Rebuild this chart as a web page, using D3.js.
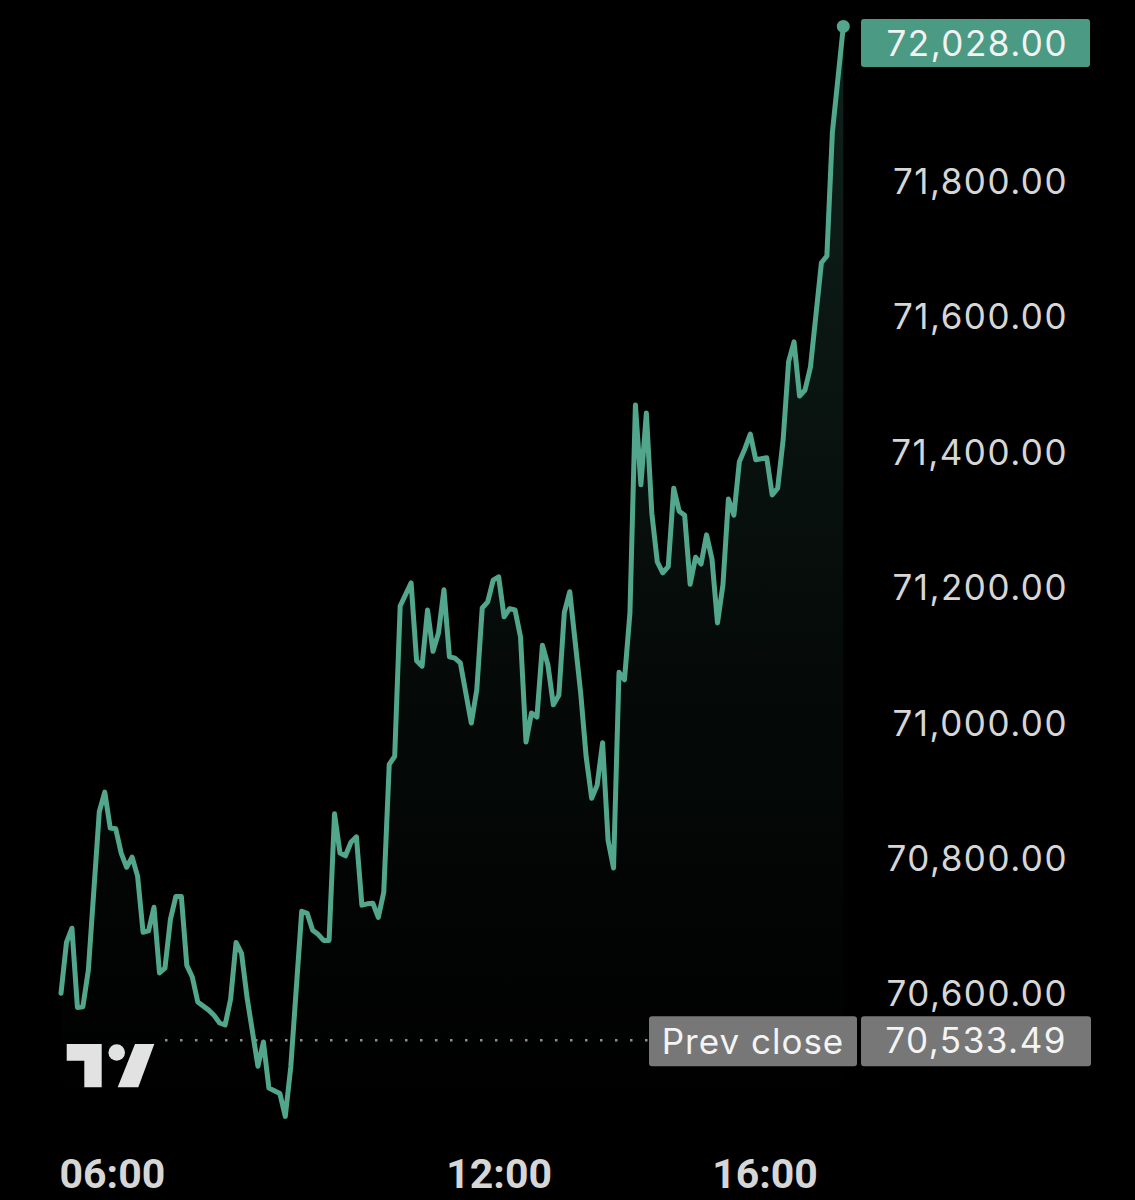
<!DOCTYPE html>
<html>
<head>
<meta charset="utf-8">
<script src="https://cdn.jsdelivr.net/npm/d3@7/dist/d3.min.js"></script>
<style>
  html, body { margin: 0; padding: 0; background: #000; }
  svg { display: block; }
</style>
</head>
<body>
<svg id="chart" width="1135" height="1200"></svg>
<script>
// ---- data (5‑minute bar index, price) ----
const bars = [0,1,2,3,4,5,7,8,9,10,11,12,13,14,15,16,17,18,19,20,21,22,23,24,25,27,28,29,30,31,32,33,34,36,37,38,40,41,42,44,45,46,47,48,49,50,51,52,53,54,55,56,57,58,59,60,61,62,64,65,66,67,68,69,70,71,72,73,75,76,77,78,79,80,81,82,83,84,85,86,87,88,89,90,91,92,93,95,96,97,98,99,100,101,102,103,104,105,106,107,108,109,110,111,112,113,114,115,116,117,118,119,120,121,122,123,124,125,126,127,129,130,131,132,133,134,135,136,137,139,140,141,143];
const prices = [70600,70675,70696,70579,70580,70634,70868,70897,70844,70843,70807,70786,70801,70773,70690,70692,70727,70630,70637,70709,70743,70743,70641,70624,70587,70575,70567,70556,70553,70591,70675,70659,70594,70492,70528,70460,70452,70418,70491,70721,70718,70693,70687,70678,70678,70865,70807,70803,70823,70831,70730,70732,70733,70712,70749,70938,70950,71172,71206,71091,71083,71166,71105,71132,71196,71097,71095,71088,70999,71048,71169,71178,71210,71215,71156,71168,71166,71126,70971,71014,71008,71114,71085,71026,71040,71162,71193,71043,70949,70888,70907,70970,70826,70785,71074,71063,71162,71469,71351,71457,71309,71237,71221,71230,71346,71312,71306,71204,71244,71234,71277,71241,71147,71203,71330,71306,71385,71404,71426,71388,71391,71336,71346,71417,71533,71562,71482,71491,71525,71679,71689,71871,72028];
const yTicks = [70600, 70800, 71000, 71200, 71400, 71600, 71800];
const xTickBars = [9.3, 80, 128.6];
const xTickLabels = ["06:00", "12:00", "16:00"];
const lastPrice = 72028.00;
const prevClose = 70533.49;
const prevCloseLabel = "Prev close";

// ---- layout ----
const svg = d3.select("#chart");
const lineColor = "#52a68c";
const fmt = d3.format(",.2f");
const labelFont = "Inter, 'Noto Sans', sans-serif";

const x = d3.scaleLinear().domain([0, 143]).range([61, 843.3]);
const y = d3.scaleLinear().domain([70600, 71800]).range([993.2, 180.8]);

const data = bars.map((b, i) => ({ b, p: prices[i] }));

// gradient
const defs = svg.append("defs");
const grad = defs.append("linearGradient")
  .attr("id", "fillGrad").attr("gradientUnits", "userSpaceOnUse")
  .attr("x1", 0).attr("x2", 0).attr("y1", y(lastPrice)).attr("y2", 1100);
grad.append("stop").attr("offset", 0).attr("stop-color", lineColor).attr("stop-opacity", 0.2);
grad.append("stop").attr("offset", 0.55).attr("stop-color", lineColor).attr("stop-opacity", 0.07);
grad.append("stop").attr("offset", 1).attr("stop-color", lineColor).attr("stop-opacity", 0);

// area
const area = d3.area().x(d => x(d.b)).y0(1100).y1(d => y(d.p));
svg.append("path").datum(data).attr("d", area).attr("fill", "url(#fillGrad)");

// prev close dotted line
svg.append("line")
  .attr("x1", 165).attr("x2", 648)
  .attr("y1", y(prevClose) + 2).attr("y2", y(prevClose) + 2)
  .attr("stroke", "#8f8f8f").attr("stroke-width", 2.5)
  .attr("stroke-dasharray", "2.5 12.5");

// line
const line = d3.line().x(d => x(d.b)).y(d => y(d.p));
svg.append("path").datum(data).attr("d", line)
  .attr("fill", "none").attr("stroke", lineColor)
  .attr("stroke-width", 5).attr("stroke-linejoin", "round").attr("stroke-linecap", "round");

// end dot
const last = data[data.length - 1];
svg.append("circle").attr("cx", x(last.b)).attr("cy", y(last.p)).attr("r", 6.5).attr("fill", lineColor);

// y axis labels
const yAxis = d3.axisRight(y).tickValues(yTicks).tickFormat(fmt).tickSize(0);
const yg = svg.append("g").call(yAxis);
yg.select(".domain").remove();
yg.selectAll("text")
  .attr("x", 1068).attr("text-anchor", "end").attr("dy", "0.36em")
  .attr("fill", "#d6d6d6")
  .style("font-family", labelFont)
  .style("font-size", "35px").style("letter-spacing", "1.5px");

// current price box
const boxTop = Math.max(y(lastPrice) - 24, 19);
svg.append("rect").attr("x", 861).attr("y", boxTop).attr("width", 229).attr("height", 48)
  .attr("rx", 3).attr("fill", "#4b9b84");
svg.append("text").attr("x", 1068).attr("y", boxTop + 24).attr("dy", "0.36em")
  .attr("text-anchor", "end").attr("fill", "#f2f2f2")
  .style("font-family", labelFont)
  .style("font-size", "35px").style("letter-spacing", "1.5px")
  .text(fmt(lastPrice));

// prev close boxes
const pcY = y(prevClose) + 3;
svg.append("rect").attr("x", 649).attr("y", pcY - 25).attr("width", 208).attr("height", 50)
  .attr("rx", 3).attr("fill", "#777777");
svg.append("rect").attr("x", 861).attr("y", pcY - 25).attr("width", 230).attr("height", 50)
  .attr("rx", 3).attr("fill", "#777777");
svg.append("text").attr("x", 753).attr("y", pcY).attr("dy", "0.36em")
  .attr("text-anchor", "middle").attr("fill", "#f4f4f4")
  .style("font-family", labelFont)
  .style("font-size", "35px").style("letter-spacing", "1px")
  .text(prevCloseLabel);
svg.append("text").attr("x", 1067).attr("y", pcY - 1).attr("dy", "0.36em")
  .attr("text-anchor", "end").attr("fill", "#f4f4f4")
  .style("font-family", labelFont)
  .style("font-size", "35px").style("letter-spacing", "1.5px")
  .text(fmt(prevClose));

// x axis labels
const xAxis = d3.axisBottom(x).tickValues(xTickBars).tickFormat((d, i) => xTickLabels[i]).tickSize(0);
const xg = svg.append("g").attr("transform", "translate(0,1188)").call(xAxis);
xg.select(".domain").remove();
xg.selectAll("text")
  .attr("y", 0).attr("dy", 0)
  .attr("fill", "#d6d6d6")
  .style("font-family", "Roboto, 'Noto Sans', sans-serif")
  .style("font-size", "41px").style("font-weight", "700");

// TradingView logo
const logo = svg.append("g").attr("fill", "#e2e2e2");
logo.append("path").attr("d", "M66.7,1044 H101.7 V1087.3 H84.3 V1060.7 H66.7 Z");
logo.append("circle").attr("cx", 116.7).attr("cy", 1052.5).attr("r", 8.3);
logo.append("path").attr("d", "M135,1044 H154.3 L138.3,1087.3 H117.7 Z");
</script>
</body>
</html>
